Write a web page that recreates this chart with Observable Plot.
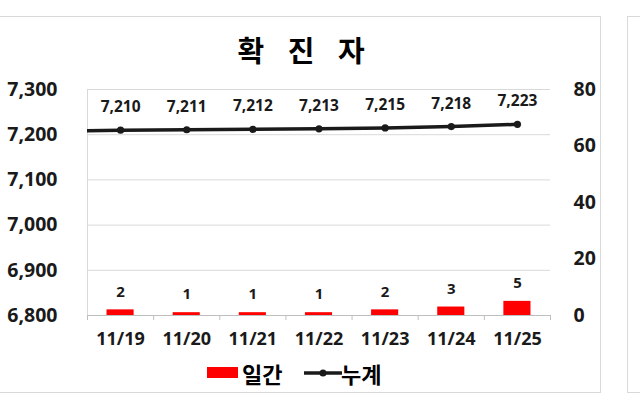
<!DOCTYPE html>
<html>
<head>
<meta charset="utf-8">
<script src="https://cdn.jsdelivr.net/npm/d3@7"></script>
<script src="https://cdn.jsdelivr.net/npm/@observablehq/plot@0.6"></script>
<style>
  html, body { margin: 0; padding: 0; background: #ffffff; }
  body { width: 640px; height: 400px; position: relative; overflow: hidden;
         font-family: "Noto Sans CJK KR", "Noto Sans", sans-serif; color: #000; }
  .panel { position: absolute; border: 1px solid #d9d9d9; box-sizing: border-box; background: #fff; }
  #chart { position: absolute; left: 0; top: 0; }
  #title { position: absolute; left: 0; width: 602px; top: 32px; text-align: center;
           font-size: 29px; line-height: 34px; font-weight: 700; word-spacing: 17px; }
  .leg { position: absolute; top: 360px; font-size: 22px; line-height: 26px; font-weight: 700; }
</style>
</head>
<body>
<div class="panel" style="left:-2px; top:16px; width:603px; height:377px;"></div>
<div class="panel" style="left:627px; top:16px; width:40px; height:377px;"></div>
<div id="chart"></div>
<div id="title">확 진 자</div>
<div style="position:absolute; left:207px; top:367px; width:31px; height:11px; background:#ff0000;"></div>
<div class="leg" style="left:242px;">일간</div>
<svg style="position:absolute; left:303px; top:366px;" width="40" height="14">
  <line x1="1" y1="7" x2="39" y2="7" stroke="#1a1a1a" stroke-width="3.5"></line>
  <circle cx="20" cy="7" r="3.5" fill="#1a1a1a"></circle>
</svg>
<div class="leg" style="left:341px;">누계</div>
<script>
const dates = ["11/19", "11/20", "11/21", "11/22", "11/23", "11/24", "11/25"];
const daily = [2, 1, 1, 1, 2, 3, 5];
const cumulative = [7210, 7211, 7212, 7213, 7215, 7218, 7223];
const leftTicks = [6800, 6900, 7000, 7100, 7200, 7300];
const rightTicks = [0, 20, 40, 60, 80];

const leftMin = 6800, leftMax = 7300, rightMax = 80;
const toLeft = v => leftMin + v * (leftMax - leftMin) / rightMax;
const fromLeft = v => Math.round((v - leftMin) * rightMax / (leftMax - leftMin));

const rows = dates.map((d, i) => ({i, date: d, daily: daily[i], cum: cumulative[i]}));
// previous day's total (first total minus its daily increase) continues the line to the frame edge
const lineRows = [{i: -1, cum: cumulative[0] - daily[0]}, ...rows];
const idx = dates.map((d, i) => i);
const bounds = dates.map((d, i) => i - 0.5).concat([dates.length - 0.5]);
const fmt = d3.format(",");
const ink = "#1a1a1a";
const numFont = '"Open Sans", "Noto Sans", sans-serif';

const chart = Plot.plot({
  width: 640,
  height: 400,
  marginLeft: 87,
  marginRight: 90,
  marginTop: 89,
  marginBottom: 85,
  style: {fontFamily: numFont, background: "transparent", color: "#000"},
  x: {type: "linear", domain: [-0.5, dates.length - 0.5], axis: null},
  y: {domain: [leftMin, leftMax], axis: null},
  marks: [
    Plot.gridY(leftTicks.slice(1), {stroke: "#d9d9d9", strokeOpacity: 1}),
    Plot.ruleX([-0.5], {stroke: "#d9d9d9"}),
    Plot.axisX(bounds, {tickSize: 5, tickFormat: () => "", stroke: "#bfbfbf", label: null}),
    Plot.ruleY([leftMin], {stroke: "#bfbfbf"}),
    Plot.axisX(idx, {tickSize: 0, tickPadding: 17, tickFormat: i => dates[i], fontSize: 18, fontWeight: "bold", fill: ink, label: null}),
    Plot.axisY(leftTicks, {anchor: "left", tickSize: 0, tickPadding: 30, tickFormat: fmt, fontSize: 19.5, fontWeight: "bold", fill: ink, label: null}),
    Plot.axisY(rightTicks.map(toLeft), {anchor: "right", tickSize: 0, tickPadding: 23, tickFormat: fromLeft, fontSize: 19.5, fontWeight: "bold", fill: ink, label: null}),
    Plot.rectY(rows, {x1: d => d.i - 0.205, x2: d => d.i + 0.205, y1: () => leftMin, y2: d => toLeft(d.daily), fill: "#ff0000"}),
    Plot.text(rows, {x: "i", y: d => toLeft(d.daily), text: d => String(d.daily), dy: -18, fontSize: 15, fontWeight: "bold", fill: ink}),
    Plot.line(lineRows, {x: "i", y: "cum", stroke: ink, strokeWidth: 3.5, clip: true}),
    Plot.dot(rows, {x: "i", y: "cum", r: 3.6, fill: ink, stroke: "none"}),
    Plot.text(rows, {x: "i", y: "cum", text: d => fmt(d.cum), dy: -23, fontSize: 15.5, fontWeight: "bold", fill: ink})
  ]
});
document.getElementById("chart").appendChild(chart);
</script>
</body>
</html>
